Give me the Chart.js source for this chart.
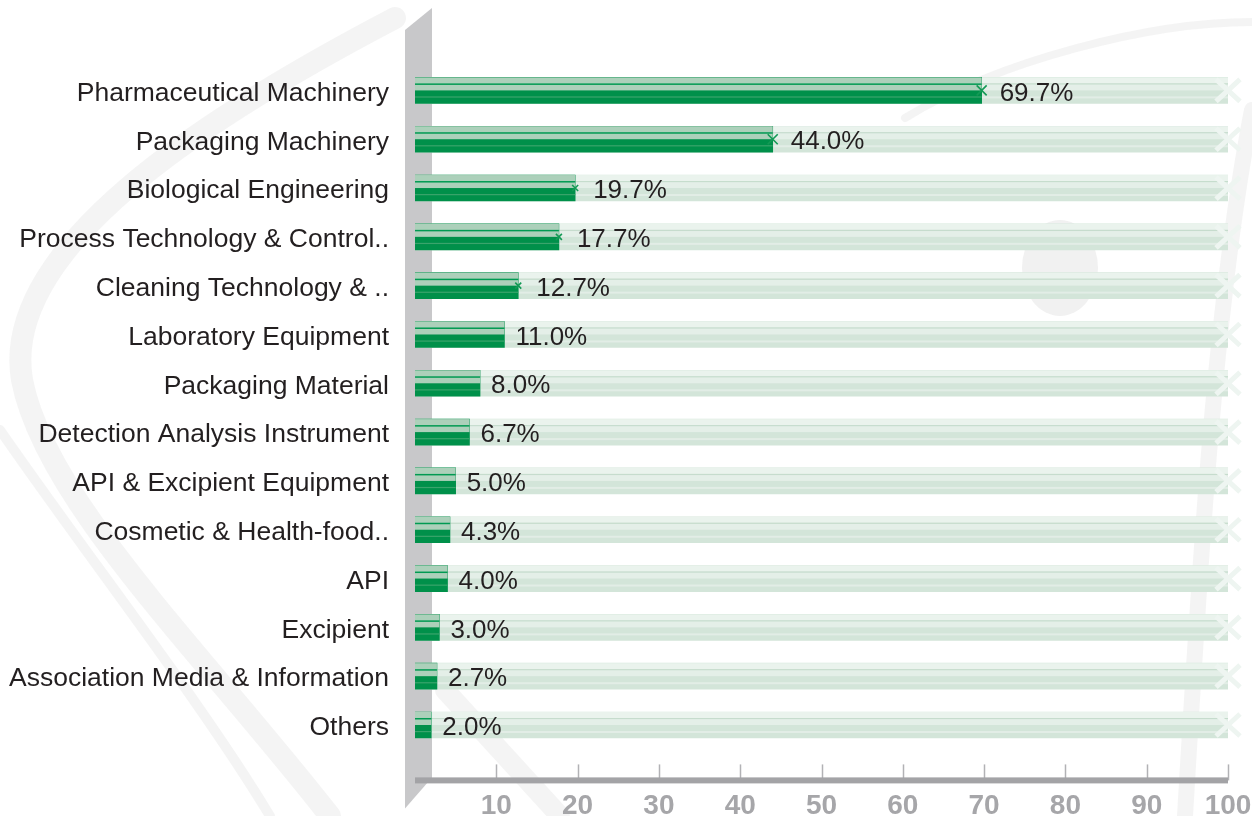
<!DOCTYPE html>
<html>
<head>
<meta charset="utf-8">
<script src="https://cdn.jsdelivr.net/npm/chart.js@4.4.0/dist/chart.umd.min.js"></script>
<style>
html, body { margin: 0; padding: 0; background: #fff; }
#wrap { width: 1252px; height: 816px; }
</style>
</head>
<body>
<div id="wrap"><canvas id="grafico" width="1252" height="816"></canvas></div>
<script>
// dados
const categorias = [
  "Pharmaceutical Machinery",
  "Packaging Machinery",
  "Biological Engineering",
  "Process Technology & Control..",
  "Cleaning Technology & ..",
  "Laboratory Equipment",
  "Packaging Material",
  "Detection Analysis Instrument",
  "API & Excipient Equipment",
  "Cosmetic & Health-food..",
  "API",
  "Excipient",
  "Association Media & Information",
  "Others"
];
const percentuais = [69.7, 44.0, 19.7, 17.7, 12.7, 11.0, 8.0, 6.7, 5.0, 4.3, 4.0, 3.0, 2.7, 2.0];
const escalaMax = 100;
const ticksX = [10, 20, 30, 40, 50, 60, 70, 80, 90, 100];
const trilho = categorias.map(() => escalaMax);

const FONTE = '"Liberation Sans", Arial, sans-serif';

// fundo: pinceladas cinza e a parede lateral
const fundoPlugin = {
  id: 'fundo',
  beforeDraw(chart) {
    const c = chart.ctx;
    const area = chart.chartArea;
    c.save();
    c.fillStyle = '#fff';
    c.fillRect(0, 0, chart.width, chart.height);

    c.lineCap = 'round';
    c.strokeStyle = 'rgba(195,195,195,0.18)';
    c.lineWidth = 22;
    c.beginPath();
    c.moveTo(395, 18);
    c.bezierCurveTo(200, 120, 0, 250, 22, 380);
    c.bezierCurveTo(45, 500, 200, 650, 330, 816);
    c.stroke();
    c.lineWidth = 10;
    c.beginPath();
    c.moveTo(0, 430);
    c.bezierCurveTo(90, 560, 200, 700, 270, 816);
    c.stroke();
    c.lineWidth = 20;
    c.beginPath();
    c.moveTo(445, 690);
    c.lineTo(560, 816);
    c.stroke();
    c.lineWidth = 16;
    c.beginPath();
    c.moveTo(1252, 110);
    c.bezierCurveTo(1215, 300, 1200, 560, 1185, 816);
    c.stroke();
    c.lineWidth = 8;
    c.beginPath();
    c.moveTo(905, 118);
    c.bezierCurveTo(1000, 60, 1150, 22, 1252, 22);
    c.stroke();
    c.fillStyle = 'rgba(215,215,215,0.35)';
    c.beginPath();
    c.ellipse(1060, 268, 38, 48, 0, 0, Math.PI * 2);
    c.fill();

    // parede cinza
    const xl = area.left - 10, xr = area.left + 17;
    c.fillStyle = '#c8c8ca';
    c.beginPath();
    c.moveTo(xl, 30);
    c.lineTo(xr, 8);
    c.lineTo(xr, area.bottom + 28);
    c.lineTo(xl, area.bottom + 59);
    c.closePath();
    c.fill();
    c.restore();
  }
};

function faixa(c, x, y, w, h, cor) {
  c.fillStyle = cor;
  c.fillRect(x, y, w, h);
}

// relevo das barras + rotulos de valor
const relevoPlugin = {
  id: 'relevo',
  afterDatasetDraw(chart, args) {
    const c = chart.ctx;
    const ehTrilho = args.index === 0;
    c.save();
    args.meta.data.forEach((bar, i) => {
      const p = bar.getProps(['x', 'y', 'base', 'height'], true);
      const l = Math.min(p.x, p.base), r = Math.max(p.x, p.base);
      const h = p.height, t = p.y - h / 2, u = h / 26, w = r - l;
      if (ehTrilho) {
        faixa(c, l, t, w, 6 * u, '#eaf3ed');
        faixa(c, l, t + 6 * u, w, 1.2 * u, '#c6dccd');
        faixa(c, l, t + 7.2 * u, w, 5.8 * u, '#e4efe8');
        faixa(c, l, t + 19 * u, w, 2 * u, '#e2ede6');
        c.strokeStyle = '#eef5f1';
        c.lineWidth = 5;
        c.beginPath();
        c.moveTo(r - 12, t + 2); c.lineTo(r + 12, t + h - 2);
        c.moveTo(r - 12, t + h - 2); c.lineTo(r + 12, t + 2);
        c.stroke();
      } else {
        const v = percentuais[i];
        faixa(c, l, t, w, 13 * u, '#acd0ba');
        faixa(c, l, t + 6 * u, w, 1.5 * u, '#009a52');
        faixa(c, l, t + 19 * u, w, 1.2 * u, '#3aa46c');
        let gap = 11;
        if (v >= 12) {
          gap = 18;
          c.strokeStyle = '#139a55';
          c.lineWidth = 1.6;
          const s = v >= 40 ? 5 : 3;
          c.beginPath();
          c.moveTo(r - s, p.y - s); c.lineTo(r + s, p.y + s);
          c.moveTo(r - s, p.y + s); c.lineTo(r + s, p.y - s);
          c.stroke();
        }
        c.fillStyle = '#231f20';
        c.font = '26px ' + FONTE;
        c.textAlign = 'left';
        c.textBaseline = 'middle';
        c.fillText(v.toFixed(1) + '%', r + gap, p.y + 3);
      }
    });
    c.restore();
  }
};

// eixo x grosso com marcas para cima
const eixoPlugin = {
  id: 'eixo',
  afterDraw(chart) {
    const c = chart.ctx;
    const xs = chart.scales.x;
    const yEixo = chart.chartArea.bottom + 31;
    c.save();
    c.strokeStyle = '#b2b2b5';
    c.lineWidth = 1.5;
    ticksX.forEach(v => {
      const px = Math.round(xs.getPixelForValue(v)) + 0.5;
      c.beginPath();
      c.moveTo(px, yEixo - 16);
      c.lineTo(px, yEixo);
      c.stroke();
    });
    c.fillStyle = '#a3a3a6';
    const x0 = xs.getPixelForValue(0);
    c.fillRect(x0, yEixo - 3, xs.getPixelForValue(escalaMax) - x0, 6);
    c.restore();
  }
};

new Chart(document.getElementById('grafico'), {
  type: 'bar',
  data: {
    labels: categorias,
    datasets: [
      {
        label: 'trilho',
        data: trilho,
        backgroundColor: '#d3e5d9',
        barThickness: 26,
        grouped: false,
        order: 2
      },
      {
        label: 'Participação',
        data: percentuais,
        backgroundColor: '#00904a',
        barThickness: 26,
        grouped: false,
        order: 1
      }
    ]
  },
  options: {
    indexAxis: 'y',
    responsive: false,
    animation: false,
    events: [],
    layout: { padding: { top: 66, right: 24, bottom: 0, left: 0 } },
    plugins: { legend: { display: false }, tooltip: { enabled: false } },
    scales: {
      x: {
        min: 0,
        max: escalaMax,
        grid: { display: false },
        border: { display: false },
        ticks: {
          stepSize: 10,
          maxRotation: 0,
          autoSkip: false,
          padding: 32,
          color: '#a6a6a9',
          font: { family: FONTE, size: 28, weight: 'bold' },
          callback: v => (v === 0 ? '' : v)
        },
        afterFit: s => {
          s.height = 66.6;
          s.paddingLeft = 0;
          s.paddingRight = 0;
        }
      },
      y: {
        grid: { display: false },
        border: { display: false },
        ticks: {
          padding: 18,
          labelOffset: 3,
          color: '#231f20',
          font: { family: FONTE, size: 26.5 }
        },
        afterFit: s => {
          s.width = 415;
          s.paddingTop = 0;
          s.paddingBottom = 0;
        }
      }
    }
  },
  plugins: [fundoPlugin, relevoPlugin, eixoPlugin]
});
</script>
</body>
</html>
